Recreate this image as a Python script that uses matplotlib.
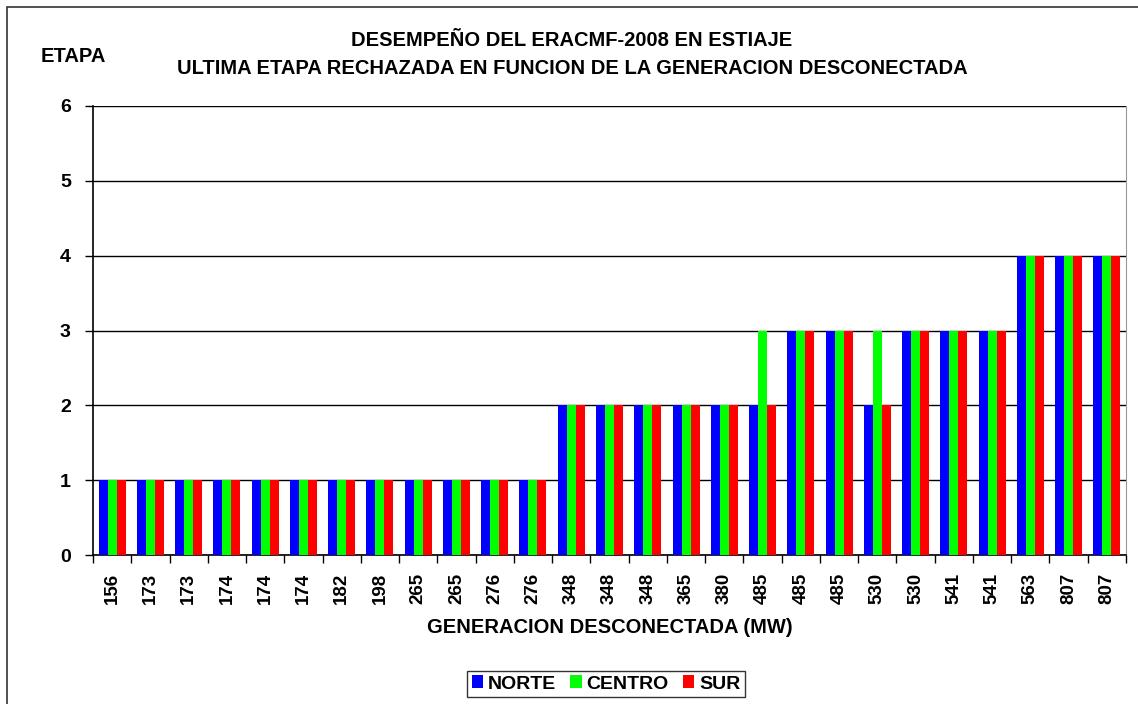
import matplotlib
matplotlib.use("Agg")
import matplotlib.pyplot as plt
import numpy as np
from matplotlib.patches import Rectangle
from matplotlib import font_manager

categories = ["156", "173", "173", "174", "174", "174", "182", "198", "265", "265",
              "276", "276", "348", "348", "348", "365", "380", "485", "485", "485",
              "530", "530", "541", "541", "563", "807", "807"]
norte = [1, 1, 1, 1, 1, 1, 1, 1, 1, 1, 1, 1, 2, 2, 2, 2, 2, 2, 3, 3, 2, 3, 3, 3, 4, 4, 4]
centro = [1, 1, 1, 1, 1, 1, 1, 1, 1, 1, 1, 1, 2, 2, 2, 2, 2, 3, 3, 3, 3, 3, 3, 3, 4, 4, 4]
sur = [1, 1, 1, 1, 1, 1, 1, 1, 1, 1, 1, 1, 2, 2, 2, 2, 2, 2, 3, 3, 2, 3, 3, 3, 4, 4, 4]
series_names = ["NORTE", "CENTRO", "SUR"]
colors = ["#0000FF", "#00FF00", "#FF0000"]

avail = {f.name for f in font_manager.fontManager.ttflist}
fam = ["Liberation Sans Narrow", "DejaVu Sans"] if "Liberation Sans Narrow" in avail else ["Liberation Sans", "DejaVu Sans"]
plt.rcParams['font.family'] = fam
plt.rcParams['font.weight'] = 'bold'

W, H = 1138, 704
fig = plt.figure(figsize=(W / 100, H / 100), dpi=100)
ax = fig.add_axes([93 / W, 1 - 555 / H, (1126 - 93) / W, (555 - 106) / H])

x = np.arange(len(categories))
bw = 0.235
for i, (vals, c, name) in enumerate(zip([norte, centro, sur], colors, series_names)):
    ax.bar(x + (i - 1) * bw, vals, width=bw, color=c, label=name, zorder=3, linewidth=0)

ax.set_xlim(-0.5, len(categories) - 0.5)
ax.set_ylim(0, 6)
ax.set_yticks(range(0, 7))
ax.yaxis.grid(True, color="black", linewidth=1.0, zorder=0)
ax.set_axisbelow(True)
ax.set_xticks(x)
ax.set_xticklabels(categories, rotation=90, fontsize=13.5, fontweight='bold')
ax.tick_params(axis='x', length=0, pad=13)
ax.set_xticks(np.arange(-0.5, len(categories) + 0.5, 1), minor=True)
ax.tick_params(axis='x', which='minor', length=6, width=1, direction='out', color='black')
ax.tick_params(axis='y', length=6, width=1, direction='out', labelsize=14, pad=10)
for lab in ax.get_yticklabels():
    lab.set_fontweight('bold')

ax.spines['top'].set_visible(False)
ax.spines['right'].set_color('#999999')
ax.spines['left'].set_color('black')
ax.spines['bottom'].set_color('black')
ax.spines['left'].set_linewidth(1.2)
ax.spines['bottom'].set_linewidth(1.2)

ax.set_xlabel("GENERACION DESCONECTADA (MW)", fontsize=14.5, fontweight='bold', labelpad=10)

fig.text(572 / W, 1 - 40 / H, "DESEMPEÑO DEL ERACMF-2008 EN ESTIAJE", ha='center', va='center',
         fontsize=14.5, fontweight='bold')
fig.text(572 / W, 1 - 68 / H, "ULTIMA ETAPA RECHAZADA EN FUNCION DE LA GENERACION DESCONECTADA",
         ha='center', va='center', fontsize=14.5, fontweight='bold')
fig.text(73 / W, 1 - 57 / H, "ETAPA", ha='center', va='center', fontsize=14.5, fontweight='bold')

leg = fig.legend(loc='center', bbox_to_anchor=(606 / W, 1 - 684 / H), ncol=3, frameon=True,
                 prop={'weight': 'bold', 'size': 14}, handlelength=0.6, handleheight=0.6,
                 handletextpad=0.25, columnspacing=0.7, borderpad=0.25, fancybox=False)
leg.get_frame().set_edgecolor('black')
leg.get_frame().set_linewidth(1.0)

fig.patches.append(Rectangle((7 / W, -0.02), 1.05, 1 - 7 / H + 0.02, transform=fig.transFigure,
                             fill=False, edgecolor='#333333', linewidth=1.2, clip_on=False))

fig.savefig("out.png", dpi=100)
